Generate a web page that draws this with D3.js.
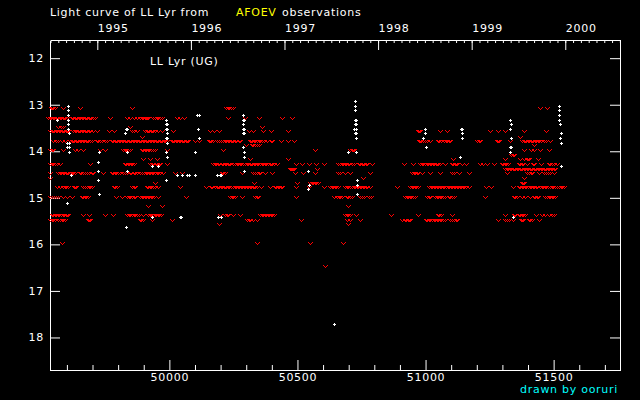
<!DOCTYPE html>
<html>
<head>
<meta charset="utf-8">
<title>Light curve of LL Lyr</title>
<script src="https://d3js.org/d3.v7.min.js"></script>
<style>
  html, body { margin: 0; background: #000; overflow: hidden; }
  text { font-family: "DejaVu Sans", sans-serif; font-size: 11px; letter-spacing: 0.72px; fill: #fff; }
</style>
</head>
<body>
<div id="chart"></div>
<script>
// ticks
var magTicks = [12, 13, 14, 15, 16, 17, 18]
var mjdMajor = [50000, 50500, 51000, 51500]
var mjdMinor = [49600, 49700, 49800, 49900, 50100, 50200, 50300, 50400, 50600, 50700, 50800, 50900, 51100, 51200, 51300, 51400, 51600, 51700]
var yearTicks = [1995, 1996, 1997, 1998, 1999, 2000]

// red marks, one list of MJD per magnitude row
var r1308 = [49537,49542,49546,49552,49554,49584,49651,49856,50222,50228,50233,50240,50250,51448,51474]
var r1329 = [49528,49533,49539,49544,49550,49556,49561,49566,49572,49578,49583,49589,49594,49599,49619,49625,49630,49636,49641,49647,49652,49658,49663,49669,49674,49680,49685,49691,49696,49702,49708,49768,49833,49847,49860,49873,49886,49892,49897,49903,49908,49913,49918,49938,49944,49950,49957,49963,49970,50029,50042,50057,50227,50296,50348,50439,50478]
var r1348 = [49567,49577,49586,49847,50361]
var r1356 = [49534,49540,49546,49551,49557,49562,49568,49574,49579,49585,49590,49596,49601,49606,49625,49631,49636,49642,49647,49653,49658,49664,49669,49675,49680,49686,49690,49703,49719,49765,49784,49853,49863,49873,49905,49911,49916,49922,49927,49933,49938,49944,49957,49970,50016,50159,50175,50192,50309,50326,50367,50396,50465,50972,50976,50980,51058,51084,51250,51282,51312,51386,51472]
var r1369 = [49892,51370]
var r1378 = [49547,49557,49567,49580,49593,49612,49618,49623,49629,49634,49640,49645,49651,49656,49662,49667,49673,49678,49684,49689,49697,49716,49722,49730,49736,49748,49755,49775,49781,49786,49792,49797,49803,49808,49814,49819,49825,49830,49836,49841,49847,49852,49858,49863,49869,49874,49880,49885,49891,49896,49902,49907,49913,49918,49924,49929,49935,49940,49946,49951,49957,49962,49968,49973,49979,49984,49990,50009,50015,50020,50026,50031,50037,50042,50048,50053,50059,50064,50070,50074,50101,50114,50153,50159,50164,50172,50185,50192,50201,50211,50217,50222,50228,50233,50239,50244,50250,50255,50261,50270,50276,50313,50319,50324,50330,50335,50341,50348,50354,50362,50369,50380,50397,50402,50435,50465,50485,50973,50979,50984,50990,50999,51006,51019,51047,51053,51060,51072,51078,51084,51090,51097,51201,51208,51214,51279,51283,51287,51331,51377,51383,51388,51394,51399,51405,51410,51416,51421,51427,51432,51438,51443,51449,51461,51472,51485]
var r1386 = [50300,50322,50328,50334,50341,50348,51422]
var r1397 = [49534,49540,49547,49586,49632,49645,49662,49729,49749,49820,49826,49832,49838,49846,49892,49898,49904,49910,49916,49922,49930,49938,49944,49990,50211,50569,50706,50712,50718,50722,51383,51412,51425,51446,51481]
var r1408 = [51335,51340,51345]
var r1417 = [49899,49925,49953,50313,50465,51106,51309,51370,51383,51395,51401,51405,51438]
var r1428 = [49534,49540,49546,49552,49560,49573,49690,49827,49832,49838,49843,49849,49855,49860,49925,49931,49938,49946,49952,49958,49964,49992,50172,50178,50183,50189,50195,50205,50211,50216,50222,50227,50233,50238,50250,50257,50263,50268,50274,50280,50287,50296,50302,50307,50313,50318,50324,50330,50335,50341,50347,50354,50360,50367,50373,50379,50385,50391,50396,50402,50407,50420,50495,50517,50547,50573,50602,50660,50667,50673,50679,50685,50691,50697,50703,50713,50722,50739,50745,50750,50756,50761,50767,50771,50791,50917,50951,50979,50985,50991,50999,51006,51011,51017,51022,51028,51033,51039,51044,51050,51058,51077,51103,51109,51114,51120,51123,51142,51159,51214,51223,51240,51266,51299,51304,51310,51315,51321,51364,51370,51376,51382,51396,51418,51424,51451,51481,51487,51493,51500,51514]
var r1439 = [50469,50473,50478,50483,50487,50578,51312,51318,51323,51329,51334,51340,51345,51351,51356,51362,51367,51373,51378,51384,51389,51395,51400,51406,51411,51417,51422,51428,51433,51439,51444,51450,51455,51461,51466,51472,51477,51483,51488,51494,51500,51507]
var r1447 = [49534,49567,49573,49578,49584,49589,49595,49600,49606,49612,49618,49625,49632,49651,49657,49663,49669,49680,49688,49697,49703,49742,49775,49781,49787,49793,49800,49808,49820,49826,49836,49845,49852,49860,49866,49875,49885,49893,49900,49908,49914,49920,49926,49932,49938,49944,49950,49956,49962,49977,50022,50048,50205,50211,50218,50283,50328,50335,50342,50350,50354,50374,50400,50489,50520,50569,50660,50667,50687,50704,50784,50947,50953,50959,50965,50969,50986,51016,51058,51103,51112,51129,51168,51316,51396,51404,51412,51416,51442,51464,51470,51477,51487,51500]
var r1458 = [49534,50754,51383]
var r1469 = [49944,50332,50498,50550,50556,50561,50567,50572,50582,51376,51381,51386]
var r1477 = [49560,49573,49586,49591,49597,49604,49627,49632,49637,49664,49670,49677,49685,49691,49697,49784,49789,49794,49856,49860,49865,49912,49918,49924,49930,49936,49942,49957,50042,50143,50162,50168,50178,50184,50190,50195,50201,50206,50212,50217,50223,50228,50234,50240,50250,50256,50262,50268,50273,50279,50285,50290,50296,50302,50307,50313,50319,50325,50330,50336,50341,50358,50391,50413,50418,50423,50428,50434,50439,50495,50547,50602,50628,50634,50640,50646,50652,50660,50687,50693,50699,50705,50712,50719,50725,50731,50737,50743,50749,50755,50761,50767,50771,50784,50888,50940,50946,50952,50958,50964,50970,51012,51020,51026,51032,51038,51044,51050,51056,51062,51068,51072,51080,51086,51092,51098,51104,51110,51116,51122,51128,51134,51140,51146,51152,51158,51168,51237,51256,51342,51364,51370,51376,51382,51388,51394,51400,51406,51412,51418,51424,51430,51435,51448,51454,51460,51466,51472,51477,51487,51493,51499,51505,51512,51520,51527,51534,51540]
var r1499 = [49534,49540,49548,49556,49566,49586,49599,49621,49658,49664,49670,49676,49684,49791,49817,49836,49842,49848,49855,49861,49866,49886,49892,49898,49904,49910,49916,49922,49928,49934,49940,49957,50064,50237,50243,50249,50257,50283,50336,50341,50346,50494,50641,50655,50661,50667,50673,50693,50699,50705,50712,50745,50752,50758,50778,50787,50921,50927,50933,50939,50945,50951,50957,51006,51012,51018,51038,51044,51050,51056,51062,51068,51077,51090,51096,51103,51112,51234,51344,51350,51356,51377,51390,51409,51422,51428,51434,51440,51468,51474,51480,51486,51492,51498,51504]
var r1518 = [49918,49973,50696]
var r1537 = [49541,49547,49553,49559,49565,49571,49577,49583,49589,49595,49601,49606,49664,49688,49749,49779,49836,49842,49848,49853,49860,49866,49873,49881,49899,49918,49924,49930,49936,49942,49948,49955,49961,49966,50198,50219,50224,50229,50250,50274,50354,50360,50366,50372,50378,50384,50390,50396,50402,50407,50687,50693,50699,50704,50730,50866,50969,51049,51054,51059,51103,51312,51346,51351,51364,51370,51376,51382,51390,51433,51455,51468,51481,51494,51500]
var r1548 = [49534,49540,49546,49552,49567,49573,49579,49585,49593,49682,49686,49690,49886,49891,49896,49934,50012,50302,50309,50315,50325,50341,50515,50693,50706,50745,50908,50918,50924,50930,50936,50941,51000,51006,51012,51018,51026,51032,51038,51044,51050,51056,51062,51068,51077,51097,51103,51110,51117,51123,51282,51312,51318,51324,51342,51372,51377,51382,51404,51409,51414,51442]
var r1557 = [50192,50696]
var r1598 = [49580,50341,50549,50676]
var r1647 = [50606]

var redMags = [13.08, 13.29, 13.48, 13.56, 13.69, 13.78, 13.86, 13.97, 14.08, 14.17, 14.28, 14.39, 14.47, 14.58, 14.69, 14.77, 14.99, 15.18, 15.37, 15.48, 15.57, 15.98, 16.47]
var redDates = [r1308, r1329, r1348, r1356, r1369, r1378, r1386, r1397, r1408, r1417, r1428, r1439, r1447, r1458, r1469, r1477, r1499, r1518, r1537, r1548, r1557, r1598, r1647]

// white marks
var whiteMjd = [49606,49606,49606,49606,49606,49606,49610,49602,49610,49602,49610,49610,49563,49831,49829,49834,49828,49987,49990,49986,49990,49986,49992,49987,49992,49992,49727,49834,49985,49992,49723,49931,49957,49615,49723,49834,50028,50051,50070,50077,49723,49985,49727,49602,49931,50046,50042,49832,
  50109,50117,50287,50287,50292,50287,50287,50292,50287,50292,50113,50117,50289,50293,50102,50293,50293,50543,50102,50185,50198,50202,50547,50543,50191,50202,
  50723,50723,50723,50723,50727,50723,50727,50719,50727,50723,50727,50727,50996,50996,50992,51000,51137,51141,51141,51141,50699,50727,51133,50731,50731,50731,
  51520,51520,51520,51520,51523,51328,51332,51328,51332,51328,51332,51328,51527,51523,51527,51527,51340,50644]
var whiteMag = [13.03,13.12,13.23,13.33,13.42,13.53,13.61,13.83,13.83,13.91,13.91,14.02,13.33,13.53,13.53,13.53,13.61,13.33,13.42,13.42,13.53,13.53,13.61,13.72,13.72,13.83,14.02,14.02,14.02,14.13,14.22,14.32,14.32,14.52,14.43,14.43,14.52,14.52,14.52,14.52,14.62,14.62,14.92,15.12,15.42,15.42,15.42,15.62,
  13.23,13.23,13.23,13.33,13.33,13.42,13.53,13.53,13.61,13.61,13.53,13.72,13.91,14.02,14.02,14.13,14.43,14.43,14.52,14.52,14.52,14.52,14.73,14.82,15.42,15.42,
  12.93,13.03,13.12,13.33,13.33,13.42,13.42,13.53,13.53,13.61,13.61,13.72,13.53,13.61,13.72,13.91,13.53,13.53,13.61,13.72,14.02,14.02,14.13,14.62,14.73,14.92,
  13.03,13.12,13.23,13.33,13.42,13.33,13.42,13.53,13.72,13.91,13.91,14.02,13.61,13.72,13.83,14.32,15.42,17.72]

var width = 640, height = 400
var svg = d3.select("#chart").append("svg").attr("width", width).attr("height", height)
    .style("display", "block").style("background", "#000")

var x = d3.scaleLinear().domain([49536, 51761]).range([50.5, 620.5])
var y = d3.scaleLinear().domain([11.62, 18.71]).range([40.5, 370.5])
// same span along the top, in years
var xYear = d3.scaleLinear().domain([1994.5, 2000.59]).range([50.5, 620.5])

function styleAxis(g) {
    g.selectAll("line").attr("stroke", "#fff")
    g.selectAll("path").attr("stroke", "#fff")
    g.selectAll("text").attr("fill", "#fff").style("font-family", null).style("font-size", null)
    g.attr("font-family", null).attr("font-size", null)
}

// bottom
svg.append("g").attr("transform", "translate(0,370)")
    .call(d3.axisBottom(x).tickValues(mjdMinor).tickSize(-5).tickSizeOuter(0).tickFormat(""))
    .call(styleAxis)
svg.append("g").attr("transform", "translate(0,370)")
    .call(d3.axisBottom(x).tickValues(mjdMajor).tickSize(-10).tickSizeOuter(0).tickPadding(3).tickFormat(d3.format("d")))
    .call(styleAxis)

// top: months and years
var months = d3.range(1994.5, 2000.59, 1 / 12)
svg.append("g").attr("transform", "translate(0,40)")
    .call(d3.axisTop(xYear).tickValues(months).tickSize(-3).tickSizeOuter(0).tickFormat(""))
    .call(styleAxis)
svg.append("g").attr("transform", "translate(0,40)")
    .call(d3.axisTop(xYear).tickValues(yearTicks).tickSize(-10).tickSizeOuter(0).tickPadding(8).tickFormat(d3.format("d")))
    .call(styleAxis)
    .selectAll("text").attr("text-anchor", "start")

// left and right
svg.append("g").attr("transform", "translate(50,0)")
    .call(d3.axisLeft(y).tickValues(magTicks).tickSize(-10).tickSizeOuter(0).tickPadding(6).tickFormat(d3.format("d")))
    .call(styleAxis)
svg.append("g").attr("transform", "translate(620,0)")
    .call(d3.axisRight(y).tickValues(magTicks).tickSize(-10).tickSizeOuter(0).tickFormat(""))
    .call(styleAxis)

// marks are pixel glyphs
var vGlyph = "M-2,-1h1v1h-1zM2,-1h1v1h-1zM-1,0h1v1h-1zM1,0h1v1h-1zM0,1h1v1h-1z"
var plusGlyph = "M-1,0h3v1h-3zM0,-1h1v3h-1z"

var redData = []
redMags.forEach(function(m, i) {
    redDates[i].forEach(function(d) { redData.push({mjd: d, mag: m}) })
})
svg.append("g").selectAll("path").data(redData).enter().append("path")
    .attr("d", vGlyph)
    .attr("fill", "#ff0000")
    .attr("shape-rendering", "crispEdges")
    .attr("transform", function(d) { return "translate(" + Math.round(x(d.mjd)) + "," + Math.round(y(d.mag)) + ")" })

svg.append("g").selectAll("path").data(whiteMjd).enter().append("path")
    .attr("d", plusGlyph)
    .attr("fill", "#fff")
    .attr("shape-rendering", "crispEdges")
    .attr("transform", function(d, i) { return "translate(" + Math.round(x(d)) + "," + Math.round(y(whiteMag[i])) + ")" })

// titles
svg.append("text").attr("x", 50).attr("y", 16).text("Light curve of LL Lyr from")
svg.append("text").attr("x", 236).attr("y", 16).style("fill", "#ffff00").text("AFOEV")
svg.append("text").attr("x", 282).attr("y", 16).text("observations")
svg.append("text").attr("x", 150).attr("y", 65).text("LL Lyr (UG)")
svg.append("text").attr("x", 520).attr("y", 393).style("fill", "#00ffff").text("drawn by ooruri")
</script>
</body>
</html>
